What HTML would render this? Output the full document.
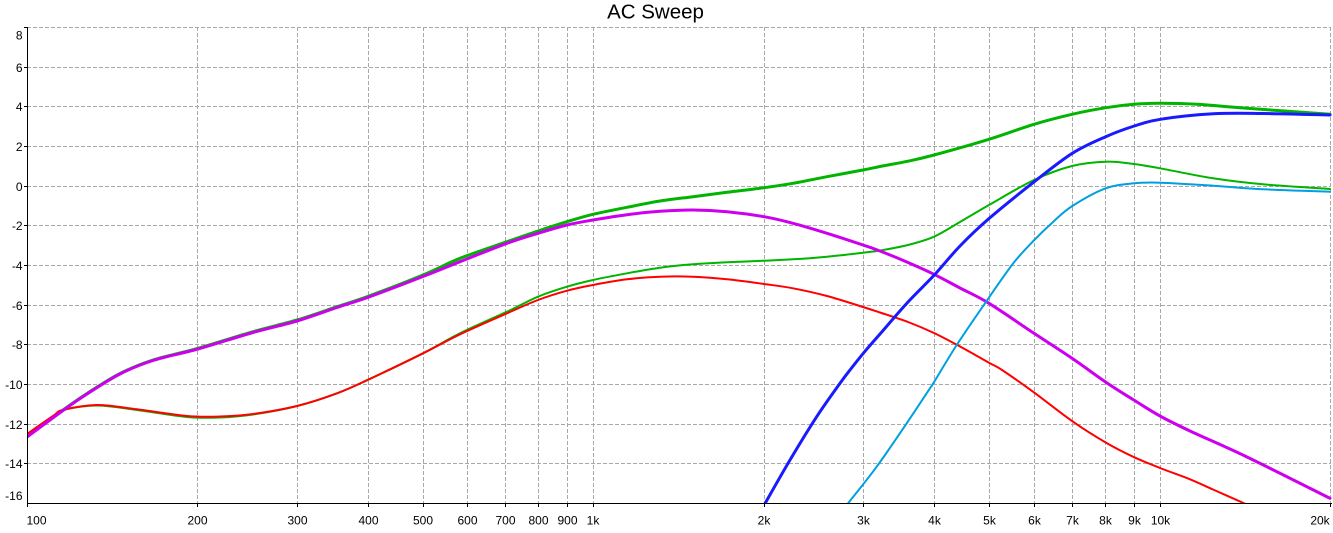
<!DOCTYPE html>
<html><head><meta charset="utf-8"><style>
html,body{margin:0;padding:0;background:#fff;}
svg{display:block;}
text{font-family:"Liberation Sans",Arial,sans-serif;fill:#000;}
</style></head><body>
<svg id="chart" width="1333" height="533" viewBox="0 0 1333 533" xmlns="http://www.w3.org/2000/svg">
<rect width="1333" height="533" fill="#fff"/>
<text x="655.5" y="18.5" font-size="20.5" text-anchor="middle">AC Sweep</text>
<g stroke="#a8a8a8" stroke-width="1" stroke-dasharray="4,2" fill="none">
<line x1="27" y1="27.5" x2="1331" y2="27.5"/>
<line x1="27" y1="67.5" x2="1331" y2="67.5"/>
<line x1="27" y1="106.5" x2="1331" y2="106.5"/>
<line x1="27" y1="146.5" x2="1331" y2="146.5"/>
<line x1="27" y1="186.5" x2="1331" y2="186.5"/>
<line x1="27" y1="225.5" x2="1331" y2="225.5"/>
<line x1="27" y1="265.5" x2="1331" y2="265.5"/>
<line x1="27" y1="305.5" x2="1331" y2="305.5"/>
<line x1="27" y1="344.5" x2="1331" y2="344.5"/>
<line x1="27" y1="384.5" x2="1331" y2="384.5"/>
<line x1="27" y1="424.5" x2="1331" y2="424.5"/>
<line x1="27" y1="463.5" x2="1331" y2="463.5"/>
<line x1="197.5" y1="27" x2="197.5" y2="503"/>
<line x1="297.5" y1="27" x2="297.5" y2="503"/>
<line x1="368.5" y1="27" x2="368.5" y2="503"/>
<line x1="423.5" y1="27" x2="423.5" y2="503"/>
<line x1="467.5" y1="27" x2="467.5" y2="503"/>
<line x1="505.5" y1="27" x2="505.5" y2="503"/>
<line x1="538.5" y1="27" x2="538.5" y2="503"/>
<line x1="567.5" y1="27" x2="567.5" y2="503"/>
<line x1="593.5" y1="27" x2="593.5" y2="503"/>
<line x1="764.5" y1="27" x2="764.5" y2="503"/>
<line x1="863.5" y1="27" x2="863.5" y2="503"/>
<line x1="934.5" y1="27" x2="934.5" y2="503"/>
<line x1="989.5" y1="27" x2="989.5" y2="503"/>
<line x1="1034.5" y1="27" x2="1034.5" y2="503"/>
<line x1="1072.5" y1="27" x2="1072.5" y2="503"/>
<line x1="1105.5" y1="27" x2="1105.5" y2="503"/>
<line x1="1134.5" y1="27" x2="1134.5" y2="503"/>
<line x1="1160.5" y1="27" x2="1160.5" y2="503"/>
<line x1="1330.5" y1="27" x2="1330.5" y2="503"/>
</g>
<defs><clipPath id="pc"><rect x="27" y="27" width="1305" height="476"/></clipPath></defs>
<g id="curves" clip-path="url(#pc)" fill="none" stroke-linejoin="round" stroke-linecap="round">
<polyline stroke="#00b400" stroke-width="2" points="27,435 53,416.7 63,410 97,405.5 137,410 187,417 220,417.5 253,414.5 297,406 337,393.3 369,379.3 423,353.3 460,333.3 507,311.7 538,296.7 567,286.7 593,280 627,273.3 660,267.7 693,264.3 727,262.3 764,260.7 793,259.3 827,256.7 863,252.7 880,250.5 908,245 934,236.7 960,222 989,205 1034,180 1072,166 1106,161.7 1134,164 1160,168.3 1213,178.3 1263,184.3 1330,189"/>
<polyline stroke="#00b400" stroke-width="3" points="27,436 63,410 87,393.5 120,373.5 153,360 198,348.3 253,331.7 297,320 337,306.7 369,296 423,275 460,258.3 507,241.7 538,231 567,221.7 593,214.3 627,207.3 660,201 693,196.7 727,192.3 764,187.7 793,183.3 827,176.7 863,170 880,166.5 908,161.2 934,155 989,139.3 1034,124.3 1072,114.3 1106,107.7 1134,104.3 1160,103.3 1197,104.3 1247,108.3 1330,114.3"/>
<polyline stroke="#ff0000" stroke-width="2" points="27,434 53,416 63,410 97,405 137,409.3 187,416 220,416.5 253,414 297,406 337,393.3 369,379.3 423,353.3 460,334.3 507,313.3 538,300 567,290.7 593,285 627,279.3 660,276.7 693,276.7 727,279.3 764,284 793,288.3 827,296 863,307 880,312.5 908,322 934,333 960,346.5 989,362.7 1002,370 1033,391.7 1073,421.7 1107,443.3 1133,456.7 1160,468 1190,479.3 1213,489.5 1243.5,503 1260,510"/>
<polyline stroke="#cc00ee" stroke-width="3" points="27,437 63,410.5 87,394 120,374 153,360.5 198,349 253,332.5 297,321 337,307.5 369,297 423,276.5 460,261.7 507,243.3 538,233.3 567,225 593,220 627,214.7 660,211.3 693,210 727,211.7 764,216.7 793,223.3 827,233.3 863,245 880,251 908,262.5 934,274.3 960,288 989,303.3 1034,333.3 1072,358.3 1107,383 1133,399.5 1160,416 1190,431 1247,457 1330,498.3"/>
<polyline stroke="#1a1aff" stroke-width="3" points="763,507 765,503.5 790,460 816.7,416.7 840,383.3 850,370 863.3,353.3 880,334 908,302 934.3,275 960,246 989.3,218.3 1034.3,181.7 1072.3,153.3 1105.7,136.7 1134.3,126 1160.3,119.3 1213.3,113.8 1263.3,113.5 1330,115"/>
<polyline stroke="#00a0e0" stroke-width="2" points="846,506 848.3,503 876.7,466.7 906.7,423.3 929.3,389.3 933.3,383.3 956.7,345 985,303.3 1013.3,263.3 1034.3,240 1053.3,221.7 1072.3,206 1105.7,188.3 1134.3,183.3 1160.3,182.7 1213.3,185.7 1263.3,189.3 1330,191.7"/>
</g>
<g stroke="#000" stroke-width="1">
<line x1="27.5" y1="27" x2="27.5" y2="504"/>
<line x1="27" y1="503.5" x2="1332" y2="503.5"/>
<line x1="24" y1="27.5" x2="27" y2="27.5"/>
<line x1="24" y1="67.5" x2="27" y2="67.5"/>
<line x1="24" y1="106.5" x2="27" y2="106.5"/>
<line x1="24" y1="146.5" x2="27" y2="146.5"/>
<line x1="24" y1="186.5" x2="27" y2="186.5"/>
<line x1="24" y1="225.5" x2="27" y2="225.5"/>
<line x1="24" y1="265.5" x2="27" y2="265.5"/>
<line x1="24" y1="305.5" x2="27" y2="305.5"/>
<line x1="24" y1="344.5" x2="27" y2="344.5"/>
<line x1="24" y1="384.5" x2="27" y2="384.5"/>
<line x1="24" y1="424.5" x2="27" y2="424.5"/>
<line x1="24" y1="463.5" x2="27" y2="463.5"/>
<line x1="27.5" y1="503" x2="27.5" y2="507"/>
<line x1="197.5" y1="503" x2="197.5" y2="507"/>
<line x1="297.5" y1="503" x2="297.5" y2="507"/>
<line x1="368.5" y1="503" x2="368.5" y2="507"/>
<line x1="423.5" y1="503" x2="423.5" y2="507"/>
<line x1="467.5" y1="503" x2="467.5" y2="507"/>
<line x1="505.5" y1="503" x2="505.5" y2="507"/>
<line x1="538.5" y1="503" x2="538.5" y2="507"/>
<line x1="567.5" y1="503" x2="567.5" y2="507"/>
<line x1="593.5" y1="503" x2="593.5" y2="507"/>
<line x1="764.5" y1="503" x2="764.5" y2="507"/>
<line x1="863.5" y1="503" x2="863.5" y2="507"/>
<line x1="934.5" y1="503" x2="934.5" y2="507"/>
<line x1="989.5" y1="503" x2="989.5" y2="507"/>
<line x1="1034.5" y1="503" x2="1034.5" y2="507"/>
<line x1="1072.5" y1="503" x2="1072.5" y2="507"/>
<line x1="1105.5" y1="503" x2="1105.5" y2="507"/>
<line x1="1134.5" y1="503" x2="1134.5" y2="507"/>
<line x1="1160.5" y1="503" x2="1160.5" y2="507"/>
<line x1="1330.5" y1="503" x2="1330.5" y2="507"/>
</g>
<g font-size="12" text-anchor="end">
<text x="22.5" y="39.3">8</text>
<text x="22.5" y="71.8">6</text>
<text x="22.5" y="110.8">4</text>
<text x="22.5" y="150.8">2</text>
<text x="22.5" y="190.8">0</text>
<text x="22.5" y="229.8">-2</text>
<text x="22.5" y="269.8">-4</text>
<text x="22.5" y="309.8">-6</text>
<text x="22.5" y="348.8">-8</text>
<text x="22.5" y="388.8">-10</text>
<text x="22.5" y="428.8">-12</text>
<text x="22.5" y="467.8">-14</text>
<text x="22.5" y="500">-16</text>
</g>
<g font-size="12" text-anchor="middle">
<text x="36.5" y="524.3">100</text>
<text x="197.5" y="524.3">200</text>
<text x="297.5" y="524.3">300</text>
<text x="368.5" y="524.3">400</text>
<text x="423" y="524.3">500</text>
<text x="467.5" y="524.3">600</text>
<text x="505.5" y="524.3">700</text>
<text x="538.5" y="524.3">800</text>
<text x="567.5" y="524.3">900</text>
<text x="593" y="524.3">1k</text>
<text x="764" y="524.3">2k</text>
<text x="863.5" y="524.3">3k</text>
<text x="934.5" y="524.3">4k</text>
<text x="989.5" y="524.3">5k</text>
<text x="1034.5" y="524.3">6k</text>
<text x="1072.5" y="524.3">7k</text>
<text x="1105.5" y="524.3">8k</text>
<text x="1134.5" y="524.3">9k</text>
<text x="1160.5" y="524.3">10k</text>
<text x="1320" y="524.3">20k</text>
</g>
</svg>
<script>
(function(){
  var NS="http://www.w3.org/2000/svg";
  var g=document.getElementById("curves");
  var pls=g.querySelectorAll("polyline");
  for(var k=0;k<pls.length;k++){
    var pl=pls[k];
    var pts=pl.getAttribute("points").trim().split(/\s+/).map(function(s){var a=s.split(",");return [parseFloat(a[0]),parseFloat(a[1])];});
    var n=pts.length;
    var d="M"+pts[0][0]+","+pts[0][1];
    for(var i=0;i<n-1;i++){
      var p0=pts[i>0?i-1:0],p1=pts[i],p2=pts[i+1],p3=pts[i+2<n?i+2:n-1];
      var c1x=p1[0]+(p2[0]-p0[0])/6,c1y=p1[1]+(p2[1]-p0[1])/6;
      var c2x=p2[0]-(p3[0]-p1[0])/6,c2y=p2[1]-(p3[1]-p1[1])/6;
      d+=" C"+c1x.toFixed(2)+","+c1y.toFixed(2)+" "+c2x.toFixed(2)+","+c2y.toFixed(2)+" "+p2[0]+","+p2[1];
    }
    var path=document.createElementNS(NS,"path");
    path.setAttribute("d",d);
    path.setAttribute("stroke",pl.getAttribute("stroke"));
    path.setAttribute("stroke-width",pl.getAttribute("stroke-width"));
    g.replaceChild(path,pl);
  }
})();
</script>
</body></html>
